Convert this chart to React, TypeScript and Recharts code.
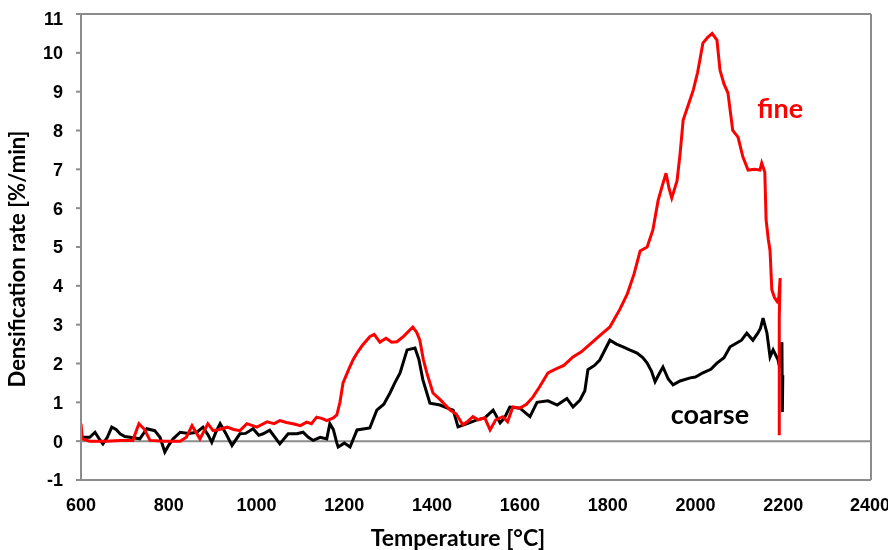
import React from "react";
import {
  LineChart,
  Line,
  XAxis,
  YAxis,
  ReferenceLine,
  ReferenceDot,
  Label,
} from "recharts";

// fine powder: temperature [°C] and densification rate [%/min]
const fineTemp = [
  600, 603, 620, 655, 690, 718, 732, 745, 757, 790, 826, 840, 853, 871, 889, 901, 915, 933, 948, 962,
  978, 1001, 1024, 1040, 1053, 1068, 1083, 1100, 1114, 1125, 1137, 1150, 1160, 1175, 1183, 1190, 1197,
  1210, 1220, 1229, 1240, 1258, 1268, 1281, 1295, 1308, 1320, 1335, 1356, 1365, 1372, 1380, 1388, 1402,
  1420, 1441, 1455, 1470, 1480, 1493, 1505, 1520, 1532, 1545, 1561, 1572, 1584, 1600, 1615, 1630, 1645,
  1664, 1680, 1700, 1721, 1740, 1760, 1780, 1805, 1828, 1845, 1860, 1874, 1890, 1903, 1915, 1925, 1933,
  1940, 1946, 1958, 1965, 1972, 1985, 1995, 2005, 2017, 2028, 2038, 2049, 2056, 2065, 2074, 2085, 2097,
  2108, 2120, 2135, 2147, 2151, 2158, 2161, 2166, 2170, 2174, 2180, 2186, 2190, 2193, 2191, 2191,
];
const fineRate = [
  0.45, 0.06, 0, 0, 0.02, 0.02, 0.45, 0.3, 0.02, 0, 0, 0.1, 0.4, 0.06, 0.45, 0.27, 0.3, 0.36, 0.3, 0.27,
  0.45, 0.36, 0.5, 0.45, 0.53, 0.48, 0.45, 0.4, 0.49, 0.45, 0.62, 0.58, 0.53, 0.6, 0.68, 1.0, 1.5,
  1.85, 2.1, 2.27, 2.45, 2.69, 2.75, 2.55, 2.65, 2.55, 2.56, 2.7, 2.94, 2.8, 2.6, 2.1, 1.76, 1.24,
  1.05, 0.8, 0.7, 0.42, 0.5, 0.63, 0.55, 0.6, 0.29, 0.55, 0.63, 0.5, 0.88, 0.85, 0.95, 1.14, 1.4,
  1.76, 1.85, 1.95, 2.17, 2.3, 2.5, 2.7, 2.94, 3.4, 3.8, 4.3, 4.9, 5.0, 5.44, 6.2, 6.6, 6.9,
  6.5, 6.26, 6.7, 7.4, 8.27, 8.7, 9.04, 9.5, 10.25, 10.4, 10.5, 10.33, 9.55, 9.2, 8.97, 8.0, 7.83,
  7.32, 6.98, 7.0, 6.98, 7.16, 6.93, 5.7, 5.2, 4.9, 3.9, 3.7, 3.6, 3.7, 4.2, 3.2, 0.15,
];

// coarse powder
const coarseTemp = [
  600, 620, 632, 642, 650, 660, 670, 680, 689, 700, 712, 734, 750, 768, 780, 791, 800, 810, 826, 845,
  864, 878, 890, 898, 908, 917, 930, 944, 962, 975, 992, 1005, 1015, 1030, 1053, 1072, 1092, 1106, 1118,
  1129, 1145, 1160, 1167, 1175, 1183, 1186, 1200, 1213, 1229, 1258, 1274, 1290, 1304, 1315, 1327, 1343,
  1361, 1370, 1379, 1395, 1418, 1435, 1448, 1459, 1480, 1502, 1520, 1539, 1555, 1565, 1577, 1600, 1623,
  1639, 1664, 1685, 1707, 1721, 1737, 1748, 1755, 1770, 1782, 1805, 1820, 1835, 1850, 1867, 1880, 1890,
  1900, 1908, 1918, 1926, 1938, 1949, 1965, 1988, 2000, 2017, 2035, 2049, 2065, 2079, 2094, 2105, 2117,
  2131, 2142, 2148, 2154, 2163, 2170, 2177, 2188, 2192, 2197, 2198, 2199,
];
const coarseRate = [
  0.1, 0.1, 0.23, 0.05, -0.07, 0.1, 0.36, 0.3, 0.19, 0.12, 0.1, 0.06, 0.32, 0.27, 0.1, -0.28, -0.1, 0.06, 0.23, 0.2,
  0.23, 0.36, 0.15, -0.03, 0.25, 0.45, 0.2, -0.11, 0.19, 0.2, 0.32, 0.15, 0.19, 0.28, -0.07, 0.19, 0.19, 0.23, 0.1,
  0.02, 0.1, 0.06, 0.45, 0.3, -0.05, -0.15, -0.05, -0.15, 0.29, 0.34, 0.8, 0.95, 1.24, 1.5, 1.76, 2.35,
  2.4, 2.1, 1.58, 0.98, 0.93, 0.85, 0.8, 0.37, 0.45, 0.55, 0.6, 0.8, 0.47, 0.6, 0.88, 0.85, 0.63,
  1.0, 1.04, 0.93, 1.1, 0.88, 1.06, 1.3, 1.84, 1.95, 2.09, 2.6, 2.5, 2.43, 2.35, 2.27, 2.15, 2.01,
  1.8, 1.53, 1.75, 1.91, 1.6, 1.45, 1.55, 1.63, 1.65, 1.76, 1.85, 2.01, 2.15, 2.43, 2.53, 2.6, 2.78,
  2.6, 2.78, 2.9, 3.17, 2.78, 2.17, 2.35, 2.1, 1.9, 2.55, 0.75, 1.7,
];

const xTicks = [600, 800, 1000, 1200, 1400, 1600, 1800, 2000, 2200, 2400];
const yTicks = [-1, 0, 1, 2, 3, 4, 5, 6, 7, 8, 9, 10, 11];

const fineData = fineTemp.map((t, i) => ({ t, v: fineRate[i] }));
const coarseData = coarseTemp.map((t, i) => ({ t, v: coarseRate[i] }));

const frame = "#8c8c8c";
const tickFont = { fontFamily: "Liberation Sans", fontWeight: 700, fontSize: 18, fill: "#000" };

export default function App() {
  // fixed so the page never gets a scrollbar
  return (
    <div style={{ position: "fixed", left: 8, top: 8 }}>
      <LineChart width={880} height={542} margin={{ top: 6, right: 17, left: 0, bottom: 0 }}>
        <XAxis
          type="number"
          dataKey="t"
          domain={[600, 2400]}
          ticks={xTicks}
          allowDataOverflow
          axisLine={{ stroke: frame, strokeWidth: 2 }}
          tickLine={false}
          tick={tickFont}
          tickMargin={12}
          height={70}
        >
          <Label
            value="Temperature [°C]"
            position="insideBottom"
            offset={4}
            dx={-18}
            style={{ fontFamily: "Lato", fontWeight: 700, fontSize: 23, fill: "#000" }}
          />
        </XAxis>
        <YAxis
          type="number"
          domain={[-1, 11]}
          ticks={yTicks}
          width={73}
          axisLine={{ stroke: frame, strokeWidth: 2 }}
          tickLine={{ stroke: frame, strokeWidth: 2 }}
          tickSize={5}
          tickMargin={13}
          tick={tickFont}
          label={{
            value: "Densification rate [%/min]",
            angle: -90,
            position: "center",
            dx: -27,
            dy: 12,
            style: { fontFamily: "Lato", fontWeight: 700, fontSize: 22, fill: "#000", textAnchor: "middle" },
          }}
        />
        <ReferenceLine y={0} stroke={frame} strokeWidth={2} />
        <ReferenceLine y={11} stroke={frame} strokeWidth={2} />
        <ReferenceLine x={2400} stroke={frame} strokeWidth={2} />
        <Line
          data={coarseData}
          dataKey="v"
          type="linear"
          stroke="#000"
          strokeWidth={3}
          dot={false}
          isAnimationActive={false}
        />
        <Line
          data={fineData}
          dataKey="v"
          type="linear"
          stroke="#ff0000"
          strokeWidth={3}
          dot={false}
          isAnimationActive={false}
        />
        <ReferenceDot
          x={2193}
          y={8.58}
          r={0}
          fill="none"
          stroke="none"
          label={{ value: "fine", position: "center", fill: "#ff0000", fontFamily: "Lato", fontWeight: 700, fontSize: 27 }}
        />
        <ReferenceDot
          x={2033}
          y={0.68}
          r={0}
          fill="none"
          stroke="none"
          label={{ value: "coarse", position: "center", fill: "#000", fontFamily: "Lato", fontWeight: 700, fontSize: 27 }}
        />
      </LineChart>
    </div>
  );
}
